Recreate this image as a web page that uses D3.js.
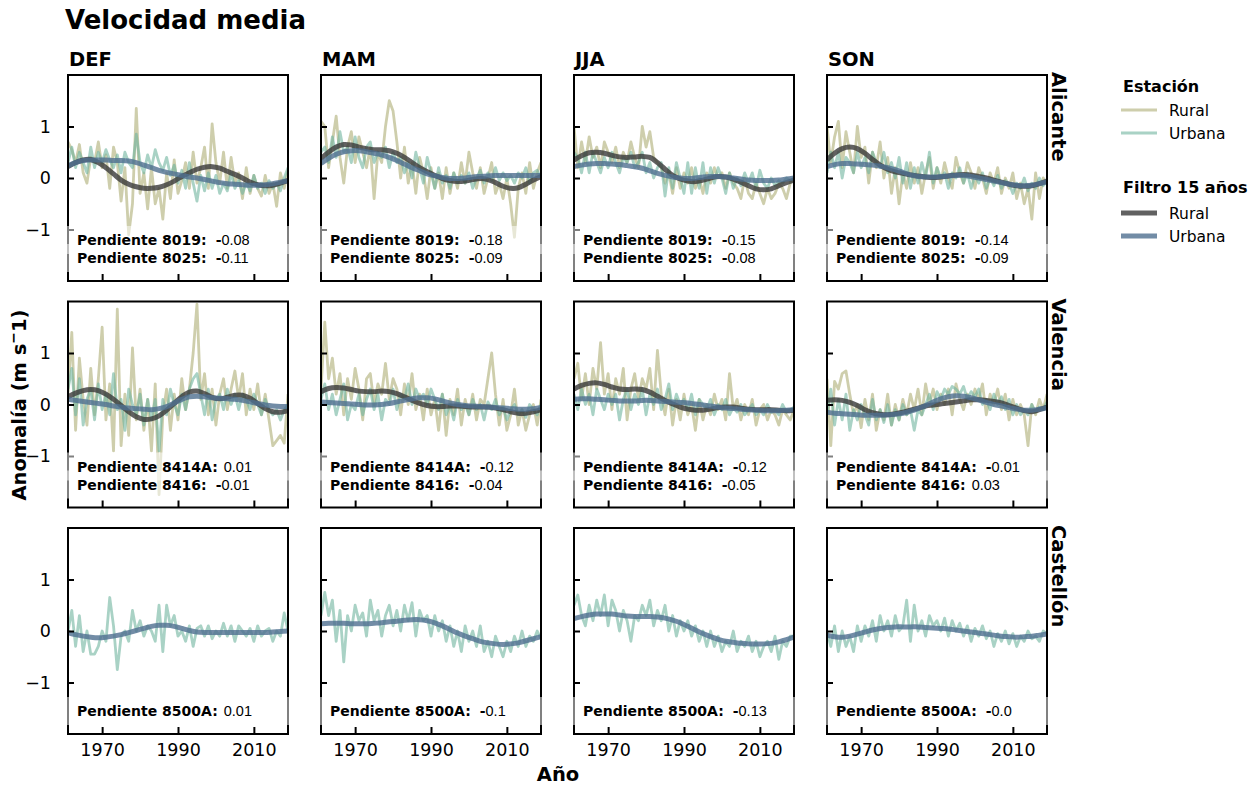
<!DOCTYPE html>
<html><head><meta charset="utf-8">
<script src="https://cdn.jsdelivr.net/npm/d3@7"></script>
<style>body{margin:0;background:#fff}svg{display:block}text{font-family:"DejaVu Sans",sans-serif}</style>
</head><body><svg id="c" width="1257" height="785"></svg>
<script>
// ---------------- DATA ----------------
const years = d3.range(1961, 2020);          // annual values 1961..2019
const filterYears = d3.range(1961, 2020, 2); // filtered curve sampled every 2 years
const seasons = ["DEF", "MAM", "JJA", "SON"];
const cities = ["Alicante", "Valencia", "Castellón"];
const yTicks = [-1, 0, 1];
const xTicks = [1970, 1990, 2010];

// Alicante
const aliDEF_rural = [0.7,0.55,0.3,0.65,0.1,-0.1,0.4,0.3,0.7,0.2,0.45,-0.2,0.6,0.3,-0.45,0.2,-1.1,-0.5,1.35,-0.3,0.1,-0.6,0.2,-0.5,-0.2,-0.8,0.1,-0.4,0.35,-0.3,-0.05,0.3,-0.2,0.5,-0.1,0.2,0.6,-0.2,1.05,0.3,-0.1,0.5,-0.2,0.4,-0.1,0.1,-0.4,0.2,-0.3,0.05,-0.2,-0.35,0.05,-0.3,-0.1,-0.55,0.1,-0.2,0.15];
const aliDEF_urbana = [0.3,0.6,0.2,0.5,0.3,0.1,0.6,0.2,0.5,0.3,0.55,0.35,0.2,0.45,0.1,0.5,0.3,0.2,0.85,0.3,0.1,0.45,0.2,0.55,0.3,0.15,0.4,0.05,0.25,-0.1,0.15,-0.2,0.3,-0.1,-0.45,0.05,-0.25,0.1,-0.2,0.05,-0.3,-0.1,-0.25,0.1,-0.2,-0.05,-0.3,-0.1,-0.25,0.05,-0.2,-0.1,-0.3,-0.05,-0.2,-0.1,-0.25,0.0,0.2];
const aliDEF_ruralF = [0.22,0.3,0.35,0.36,0.3,0.2,0.08,-0.04,-0.12,-0.17,-0.2,-0.2,-0.18,-0.13,-0.06,0.03,0.1,0.17,0.21,0.22,0.19,0.13,0.07,0,-0.08,-0.13,-0.15,-0.14,-0.1,-0.05];
const aliDEF_urbanaF = [0.24,0.3,0.34,0.35,0.35,0.35,0.34,0.34,0.33,0.3,0.25,0.2,0.15,0.11,0.08,0.05,0.02,0,-0.03,-0.06,-0.09,-0.11,-0.12,-0.13,-0.14,-0.14,-0.13,-0.11,-0.08,-0.05];

const aliMAM_rural = [1.1,1.0,0.2,0.7,1.2,0.4,-0.1,0.6,0.9,0.3,0.8,0.5,0.2,0.6,-0.4,0.5,0.3,1.0,1.5,1.3,0.7,0.0,0.6,-0.1,0.3,-0.3,0.4,0.1,-0.4,0.2,-0.2,0.1,-0.4,0.2,-0.3,0.1,-0.2,0.3,-0.1,0.5,0.1,-0.2,0.2,-0.3,0.0,0.3,-0.3,-0.1,-0.4,0.0,-0.5,-1.15,-0.2,0.1,-0.3,0.3,-0.2,0.1,0.3];
const aliMAM_urbana = [0.5,0.6,0.3,0.8,0.4,0.9,0.5,0.6,0.3,0.8,0.4,0.2,0.6,0.7,0.3,0.5,0.4,0.6,0.2,0.5,0.3,0.4,0.1,0.3,0.0,0.5,0.2,-0.1,0.4,0.1,-0.2,0.2,-0.1,0.05,-0.2,0.1,-0.1,0.05,-0.1,0.1,-0.2,0.0,0.15,-0.1,0.1,-0.05,0.2,-0.05,0.1,-0.05,0.05,-0.1,0.1,0.0,0.2,-0.1,0.1,0.15,0.0];
const aliMAM_ruralF = [0.38,0.5,0.6,0.65,0.64,0.6,0.57,0.55,0.55,0.53,0.48,0.4,0.3,0.2,0.12,0.05,-0.01,-0.05,-0.07,-0.06,-0.03,-0.01,-0.03,-0.09,-0.16,-0.2,-0.19,-0.12,-0.04,0.03];
const aliMAM_urbanaF = [0.28,0.38,0.46,0.51,0.53,0.53,0.51,0.48,0.45,0.4,0.34,0.27,0.2,0.14,0.08,0.04,0.01,-0.01,-0.01,0,0.02,0.03,0.04,0.05,0.05,0.05,0.05,0.05,0.05,0.05];

const aliJJA_rural = [1.0,0.2,0.7,0.3,0.8,0.4,0.6,0.2,0.7,0.5,0.3,0.6,0.2,0.5,0.3,0.7,0.4,0.2,1.0,0.6,0.9,0.4,0.3,0.2,-0.1,0.1,-0.3,0.2,-0.2,0.1,-0.1,0.2,-0.2,0.0,-0.3,0.1,-0.1,0.2,0.0,0.1,-0.2,0.1,-0.1,-0.2,-0.4,0.0,-0.3,-0.4,-0.1,-0.3,-0.5,-0.2,-0.4,-0.3,-0.1,-0.2,-0.4,-0.1,0.0];
const aliJJA_urbana = [0.5,0.4,0.1,0.5,0.1,0.5,0.3,0.1,0.4,0.2,0.5,0.3,0.1,0.4,0.3,0.5,0.2,0.3,0.5,0.1,0.3,0.0,0.2,0.3,-0.35,0.2,-0.2,0.3,0.0,-0.3,0.3,-0.3,0.2,-0.2,0.3,-0.3,0.2,-0.1,0.2,0.0,-0.3,0.1,-0.2,0.0,-0.15,0.1,-0.1,0.1,-0.2,0.15,-0.1,-0.2,0.0,-0.15,-0.05,-0.1,0.0,-0.05,0.0];
const aliJJA_ruralF = [0.35,0.43,0.49,0.5,0.48,0.44,0.41,0.4,0.41,0.42,0.4,0.3,0.17,0.05,-0.02,-0.06,-0.07,-0.04,0,0.03,0.02,-0.02,-0.08,-0.15,-0.21,-0.23,-0.21,-0.15,-0.09,-0.04];
const aliJJA_urbanaF = [0.22,0.25,0.27,0.28,0.28,0.27,0.26,0.24,0.22,0.19,0.14,0.09,0.05,0.02,0,-0.01,0,0.02,0.03,0.03,0.02,0,-0.02,-0.04,-0.05,-0.05,-0.05,-0.04,-0.02,0];

const aliSON_rural = [1.0,0.3,0.8,1.1,0.2,0.9,0.5,0.1,1.0,0.4,0.6,-0.1,0.5,0.2,0.7,0.0,0.4,-0.3,0.2,-0.5,0.1,-0.2,0.3,-0.1,0.2,-0.3,0.1,0.4,-0.2,0.2,-0.1,0.3,0.0,-0.2,0.4,0.1,-0.1,0.3,0.1,-0.2,0.2,0.0,-0.3,0.1,-0.1,0.2,-0.3,0.0,-0.2,0.1,-0.4,-0.1,-0.5,-0.2,-0.8,0.1,-0.4,0.0,-0.1];
const aliSON_urbana = [0.1,0.5,0.2,0.5,0.0,0.4,0.3,0.1,0.5,0.2,0.4,0.1,0.5,0.3,0.2,0.5,0.1,0.3,0.0,0.4,-0.1,0.3,-0.2,0.2,-0.1,0.3,0.0,0.5,-0.1,0.2,0.0,0.1,-0.2,0.1,0.0,0.2,-0.1,0.1,-0.2,0.05,-0.1,0.1,-0.2,0.0,-0.15,0.05,-0.2,-0.05,-0.1,-0.3,-0.1,-0.2,0.0,-0.25,-0.1,-0.2,0.0,-0.15,-0.05];
const aliSON_ruralF = [0.35,0.48,0.57,0.6,0.57,0.48,0.36,0.25,0.17,0.12,0.09,0.06,0.04,0.02,0.01,0.02,0.04,0.06,0.07,0.06,0.03,0,-0.04,-0.08,-0.12,-0.15,-0.16,-0.15,-0.11,-0.06];
const aliSON_urbanaF = [0.22,0.26,0.28,0.28,0.27,0.26,0.25,0.23,0.2,0.16,0.11,0.06,0.03,0.02,0.02,0.03,0.04,0.05,0.05,0.03,0,-0.03,-0.06,-0.09,-0.12,-0.14,-0.15,-0.14,-0.11,-0.07];

// Valencia
const valDEF_rural = [0.2,1.4,-0.5,0.9,0.1,-0.4,0.7,-0.2,0.5,1.5,-0.3,0.4,-0.9,1.85,-0.8,0.2,-0.6,1.1,-0.3,0.3,-0.5,0.1,-0.9,0.4,-1.75,-0.2,0.3,-0.5,0.2,-0.3,0.5,-0.1,0.3,1.0,1.95,0.1,0.6,-0.2,0.3,-0.4,0.2,0.5,-0.1,0.3,0.65,0.1,0.6,-0.2,0.3,-0.1,0.4,-0.2,0.2,-0.3,-0.8,-0.7,-0.6,-0.75,0.2];
const valDEF_urbana = [0.3,0.7,-0.2,0.5,-0.4,0.1,0.3,-0.3,0.4,-0.1,0.2,-0.2,0.6,-0.1,0.1,-0.5,0.3,0.0,-0.2,0.2,-0.4,0.1,-0.3,0.1,-0.9,0.1,-0.2,0.3,0.0,-0.2,0.2,-0.1,0.3,0.5,0.6,0.2,-0.2,0.3,-0.3,0.1,0.2,-0.1,0.3,0.0,0.2,-0.1,0.2,0.1,-0.1,0.2,0.0,-0.2,0.1,-0.1,-0.2,-0.1,-0.3,-0.1,0.0];
const valDEF_ruralF = [0.15,0.22,0.27,0.29,0.27,0.2,0.1,-0.02,-0.14,-0.24,-0.29,-0.28,-0.22,-0.11,0.02,0.15,0.24,0.26,0.21,0.14,0.11,0.14,0.18,0.18,0.12,0.02,-0.08,-0.14,-0.15,-0.12];
const valDEF_urbanaF = [0.1,0.08,0.06,0.04,0.02,0,-0.03,-0.05,-0.07,-0.08,-0.09,-0.1,-0.08,-0.04,0.03,0.1,0.15,0.16,0.15,0.13,0.12,0.11,0.1,0.08,0.05,0.02,-0.01,-0.03,-0.04,-0.04];

const valMAM_rural = [0.3,1.6,0.5,0.9,0.2,0.6,-0.2,0.5,0.1,0.7,0.3,-0.3,0.5,0.6,0.0,0.4,0.2,0.8,0.1,0.5,0.3,-0.2,0.4,0.0,0.6,-0.1,0.2,-0.3,0.3,-0.2,0.1,-0.5,0.2,-0.6,0.1,-0.2,0.3,-0.4,0.1,-0.2,0.2,-0.3,0.1,0.0,0.5,1.0,0.2,-0.4,0.1,-0.5,-0.2,0.3,-0.4,-0.1,-0.5,-0.2,0.0,-0.4,0.1];
const valMAM_urbana = [0.1,0.4,-0.1,0.2,-0.2,0.1,0.4,-0.3,0.0,-0.1,0.2,-0.2,0.1,0.3,-0.1,0.2,-0.3,0.1,0.0,0.3,-0.1,0.2,0.1,0.4,0.0,0.3,0.1,0.2,0.0,0.3,0.1,-0.1,0.2,-0.2,0.0,-0.3,0.1,-0.1,0.0,-0.2,0.1,-0.1,0.0,-0.3,0.05,-0.1,0.1,-0.2,-0.05,-0.3,-0.1,0.0,-0.2,-0.1,-0.25,0.0,-0.1,-0.2,0.0];
const valMAM_ruralF = [0.25,0.31,0.33,0.32,0.29,0.26,0.25,0.25,0.26,0.25,0.21,0.15,0.08,0.02,-0.02,-0.04,-0.04,-0.03,-0.03,-0.04,-0.05,-0.05,-0.05,-0.07,-0.1,-0.14,-0.17,-0.17,-0.14,-0.1];
const valMAM_urbanaF = [0.05,0.04,0.03,0.02,0.01,0,-0.01,-0.01,0,0.02,0.05,0.08,0.11,0.13,0.13,0.11,0.07,0.03,0,-0.02,-0.03,-0.04,-0.05,-0.06,-0.07,-0.08,-0.09,-0.09,-0.08,-0.06];

const valJJA_rural = [0.5,0.8,0.1,0.6,0.0,0.7,0.3,1.2,0.2,0.6,-0.1,0.5,0.2,0.7,-0.3,0.3,0.6,0.1,0.5,0.3,0.7,-0.1,1.05,0.2,-0.2,0.3,-0.4,0.1,-0.3,0.2,-0.2,0.0,-0.5,0.1,-0.3,0.0,-0.2,0.2,-0.1,0.1,-0.3,0.6,-0.1,0.1,-0.3,0.0,-0.2,0.1,-0.4,-0.1,0.0,-0.3,-0.1,-0.2,-0.4,-0.1,-0.2,-0.3,-0.1];
const valJJA_urbana = [0.2,-0.1,0.3,0.0,0.2,-0.2,0.3,0.1,-0.1,0.2,0.0,0.2,-0.3,0.1,0.3,-0.1,0.2,0.0,0.3,-0.2,0.2,0.0,0.3,-0.1,0.1,0.4,-0.1,0.2,0.0,0.1,-0.1,0.2,-0.2,0.1,0.0,-0.1,0.1,-0.2,0.0,-0.1,0.1,-0.2,-0.05,-0.15,0.0,-0.2,-0.1,0.0,-0.2,-0.1,-0.2,0.0,-0.15,-0.1,-0.2,0.0,-0.15,-0.1,-0.05];
const valJJA_ruralF = [0.3,0.37,0.41,0.42,0.39,0.34,0.3,0.29,0.3,0.29,0.24,0.16,0.08,0.01,-0.05,-0.09,-0.11,-0.11,-0.09,-0.06,-0.05,-0.05,-0.07,-0.09,-0.1,-0.1,-0.1,-0.11,-0.12,-0.11];
const valJJA_urbanaF = [0.1,0.11,0.11,0.1,0.09,0.08,0.07,0.07,0.07,0.08,0.08,0.07,0.06,0.05,0.04,0.03,0.01,-0.01,-0.03,-0.05,-0.07,-0.08,-0.09,-0.1,-0.11,-0.12,-0.12,-0.12,-0.11,-0.1];

const valSON_rural = [0.5,-0.8,0.45,0.3,0.6,0.65,0.2,-0.2,0.0,-0.45,0.1,-0.3,0.2,-0.5,-0.1,-0.3,0.2,-0.4,0.0,-0.3,0.1,-0.2,0.2,-0.1,0.3,-0.2,0.4,0.0,0.3,-0.1,0.2,0.0,0.3,-0.2,0.4,0.1,-0.1,0.2,0.0,0.3,0.1,0.4,-0.2,0.2,0.0,0.3,-0.1,0.2,-0.3,0.1,-0.2,0.0,-0.2,-0.8,0.0,-0.2,0.1,-0.1,0.2];
const valSON_urbana = [-0.2,0.3,-0.4,0.1,-0.3,0.2,-0.5,-0.1,-0.3,0.0,-0.2,-0.4,0.1,-0.3,-0.1,-0.35,0.0,-0.4,-0.1,-0.3,0.0,-0.2,-0.1,-0.5,-0.1,-0.2,0.0,0.2,-0.1,0.25,0.1,0.3,0.2,0.35,0.3,0.2,0.35,0.1,0.25,0.15,0.3,0.0,0.1,-0.1,0.2,0.0,0.15,-0.1,0.1,-0.2,0.0,-0.2,-0.1,-0.2,0.0,-0.15,-0.05,-0.1,0.05];
const valSON_ruralF = [0.08,0.09,0.08,0.04,-0.02,-0.1,-0.16,-0.19,-0.2,-0.18,-0.15,-0.11,-0.07,-0.03,-0.01,0.01,0.03,0.05,0.07,0.09,0.09,0.08,0.06,0.03,-0.02,-0.07,-0.12,-0.14,-0.1,-0.05];
const valSON_urbanaF = [-0.15,-0.17,-0.18,-0.19,-0.2,-0.21,-0.21,-0.21,-0.2,-0.19,-0.17,-0.13,-0.08,-0.02,0.05,0.11,0.15,0.17,0.16,0.13,0.09,0.04,0,-0.03,-0.06,-0.09,-0.11,-0.11,-0.09,-0.06];

// Castellón (urban station only)
const casDEF_urbana = [0.0,0.4,-0.3,0.3,-0.4,0.0,-0.45,-0.45,-0.3,0.0,-0.2,0.65,0.1,-0.75,-0.1,0.0,-0.2,0.4,0.0,0.2,-0.1,0.1,0.0,-0.2,0.5,-0.4,0.5,0.1,0.3,-0.1,0.0,-0.2,0.1,-0.3,0.05,0.1,-0.1,0.1,-0.15,0.0,-0.1,0.15,-0.1,0.1,-0.2,0.1,0.0,-0.1,0.05,-0.2,0.1,-0.1,0.0,0.05,-0.2,0.0,-0.1,0.35,0.0];
const casDEF_urbanaF = [-0.03,-0.07,-0.1,-0.12,-0.13,-0.12,-0.1,-0.07,-0.03,0.01,0.05,0.09,0.11,0.11,0.09,0.05,0.01,-0.02,-0.03,-0.03,-0.03,-0.03,-0.03,-0.03,-0.03,-0.03,-0.03,-0.02,-0.01,0];
const casMAM_urbana = [0.3,0.75,0.3,0.6,-0.2,0.4,-0.6,0.3,0.0,0.5,0.2,0.35,-0.1,0.6,0.2,0.4,-0.1,0.3,0.5,0.1,0.4,0.0,0.5,0.2,0.55,-0.1,0.4,0.2,0.3,-0.1,0.3,0.0,0.2,-0.2,0.1,-0.3,0.0,-0.4,0.1,-0.2,0.0,-0.3,0.1,-0.4,-0.2,-0.5,-0.1,-0.3,-0.5,-0.2,-0.4,-0.1,-0.3,0.0,-0.3,-0.1,-0.2,0.0,-0.15];
const casMAM_urbanaF = [0.14,0.15,0.15,0.15,0.14,0.14,0.14,0.15,0.16,0.18,0.19,0.21,0.22,0.22,0.2,0.16,0.1,0.03,-0.04,-0.1,-0.15,-0.2,-0.23,-0.25,-0.26,-0.25,-0.23,-0.19,-0.15,-0.11];
const casJJA_urbana = [0.5,0.7,0.3,0.1,0.5,0.2,0.6,0.3,0.7,0.1,0.6,0.4,0.0,0.4,0.2,-0.2,0.3,0.2,0.5,0.3,0.6,0.1,0.4,0.2,0.5,0.0,0.3,-0.1,0.2,0.0,0.2,-0.1,0.1,-0.2,0.0,-0.3,0.0,-0.3,-0.1,-0.4,-0.2,-0.3,0.0,-0.4,-0.2,-0.3,-0.1,-0.4,-0.2,-0.5,-0.3,-0.2,-0.4,-0.1,-0.55,-0.2,-0.3,-0.1,-0.1];
const casJJA_urbanaF = [0.24,0.28,0.31,0.33,0.33,0.33,0.31,0.29,0.28,0.28,0.28,0.27,0.25,0.21,0.16,0.09,0.02,-0.05,-0.11,-0.16,-0.2,-0.22,-0.24,-0.25,-0.25,-0.25,-0.24,-0.21,-0.17,-0.12];
const casSON_urbana = [0.0,-0.3,0.1,-0.4,0.0,-0.3,-0.1,-0.4,0.1,-0.2,0.1,-0.1,0.2,-0.2,0.3,0.0,0.2,-0.1,0.3,0.0,0.1,0.6,-0.2,0.5,0.0,0.2,-0.1,0.3,0.1,0.2,0.0,0.25,-0.1,0.2,0.0,0.15,-0.1,0.1,-0.2,0.05,-0.1,0.1,-0.15,0.0,-0.3,-0.05,-0.2,0.0,-0.25,-0.05,-0.3,-0.1,-0.2,0.0,-0.15,-0.1,-0.2,0.0,-0.05];
const casSON_urbanaF = [-0.08,-0.11,-0.12,-0.1,-0.06,-0.02,0.02,0.05,0.07,0.08,0.08,0.08,0.08,0.07,0.06,0.05,0.04,0.02,0,-0.02,-0.04,-0.06,-0.08,-0.1,-0.11,-0.12,-0.11,-0.1,-0.08,-0.06];

// Trend annotations (station id, slope)
const aliStations = ["8019", "8025"];
const valStations = ["8414A", "8416"];
const casStations = ["8500A"];
const aliSlopeRural = ["-0.08", "-0.18", "-0.15", "-0.14"];
const aliSlopeUrbana = ["-0.11", "-0.09", "-0.08", "-0.09"];
const valSlopeRural = ["0.01", "-0.12", "-0.12", "-0.01"];
const valSlopeUrbana = ["-0.01", "-0.04", "-0.05", "0.03"];
const casSlopeUrbana = ["0.01", "-0.1", "-0.13", "-0.0"];

// ---------------- BUILD TABLE ----------------
const panels = [
  [ {r:aliDEF_rural,u:aliDEF_urbana,rf:aliDEF_ruralF,uf:aliDEF_urbanaF},
    {r:aliMAM_rural,u:aliMAM_urbana,rf:aliMAM_ruralF,uf:aliMAM_urbanaF},
    {r:aliJJA_rural,u:aliJJA_urbana,rf:aliJJA_ruralF,uf:aliJJA_urbanaF},
    {r:aliSON_rural,u:aliSON_urbana,rf:aliSON_ruralF,uf:aliSON_urbanaF} ],
  [ {r:valDEF_rural,u:valDEF_urbana,rf:valDEF_ruralF,uf:valDEF_urbanaF},
    {r:valMAM_rural,u:valMAM_urbana,rf:valMAM_ruralF,uf:valMAM_urbanaF},
    {r:valJJA_rural,u:valJJA_urbana,rf:valJJA_ruralF,uf:valJJA_urbanaF},
    {r:valSON_rural,u:valSON_urbana,rf:valSON_ruralF,uf:valSON_urbanaF} ],
  [ {u:casDEF_urbana,uf:casDEF_urbanaF},
    {u:casMAM_urbana,uf:casMAM_urbanaF},
    {u:casJJA_urbana,uf:casJJA_urbanaF},
    {u:casSON_urbana,uf:casSON_urbanaF} ]
];
const notes = [
  s => [[aliStations[0], aliSlopeRural[s]], [aliStations[1], aliSlopeUrbana[s]]],
  s => [[valStations[0], valSlopeRural[s]], [valStations[1], valSlopeUrbana[s]]],
  s => [[casStations[0], casSlopeUrbana[s]]]
];

// ---------------- STYLE / LAYOUT ----------------
const colX = [68, 321, 574, 827], rowY = [75, 301.5, 528];
const pw = 220, ph = 206;
const C = {
  rural:  {stroke:"#b3b380", op:0.65, w:2.8},
  urbana: {stroke:"#6fb49e", op:0.6, w:2.8},
  ruralF: {stroke:"#3a3a3a", op:0.8, w:5},
  urbanaF:{stroke:"#4f6f90", op:0.8, w:5}
};

const svg = d3.select("#c");
const x = d3.scaleLinear().domain([1961, 2019]).range([0, pw]);
const y = d3.scaleLinear().domain([-2, 2]).range([ph, 0]);
const line = d3.line().x(d => x(d[0])).y(d => y(d[1]));
const smooth = d3.line().x(d => x(d[0])).y(d => y(d[1])).curve(d3.curveCatmullRom.alpha(0.5));
const fmt = d => d < 0 ? "\u2212" + Math.abs(d) : String(d);

svg.append("defs").append("clipPath").attr("id", "clip")
  .append("rect").attr("width", pw).attr("height", ph);

panels.forEach((row, ri) => {
  row.forEach((p, si) => {
    const g = svg.append("g").attr("transform", `translate(${colX[si]},${rowY[ri]})`);
    const lg = g.append("g").attr("clip-path", "url(#clip)");
    const add = (arr, xs, gen, st) => lg.append("path")
      .datum(xs.map((yr, i) => [yr, arr[i]]))
      .attr("d", gen).attr("fill", "none")
      .attr("stroke", st.stroke).attr("stroke-opacity", st.op)
      .attr("stroke-width", st.w).attr("stroke-linejoin", "round");
    if (p.r) add(p.r, years, line, C.rural);
    add(p.u, years, line, C.urbana);
    if (p.rf) add(p.rf, filterYears, smooth, C.ruralF);
    add(p.uf, filterYears, smooth, C.urbanaF);

    // axes (ticks inward)
    const ya = g.append("g").call(d3.axisLeft(y).tickValues(yTicks).tickSizeInner(-6).tickSizeOuter(0).tickPadding(17).tickFormat(fmt));
    const xa = g.append("g").attr("transform", `translate(0,${ph})`)
      .call(d3.axisBottom(x).tickValues(xTicks).tickSizeInner(-7).tickSizeOuter(0).tickPadding(10).tickFormat(d3.format("d")));
    [ya, xa].forEach(a => {
      a.select(".domain").remove();
      a.selectAll("line").attr("stroke", "#000").attr("stroke-width", 2);
      a.selectAll("text").attr("font-size", 17.5).attr("fill", "#000").attr("font-family", "DejaVu Sans");
    });
    if (si > 0) ya.selectAll("text").remove();
    if (ri < 2) xa.selectAll("text").remove();

    // frame
    g.append("rect").attr("width", pw).attr("height", ph)
      .attr("fill", "none").attr("stroke", "#000").attr("stroke-width", 2);

    // annotation
    const nl = notes[ri](si);
    const bases = nl.length === 2 ? [170, 188] : [188];
    nl.forEach((n, k) => {
      g.append("rect").attr("x", -1).attr("y", bases[k] - 19).attr("width", pw + 3).attr("height", 28)
        .attr("fill", "#fff").attr("fill-opacity", 0.5);
    });
    nl.forEach((n, k) => {
      const t = g.append("text").attr("x", 9).attr("y", bases[k]).attr("font-size", 14).attr("fill", "#000");
      t.append("tspan").attr("font-weight", "bold").text(`Pendiente ${n[0]}:`);
      const neg = n[1].startsWith("-");
      if (neg) t.append("tspan").attr("font-weight", "bold").attr("dx", 9).text("-");
      t.append("tspan").attr("font-family", "Liberation Sans").attr("font-size", 14.5)
        .attr("dx", neg ? 0 : 6).text(n[1].replace(/^-/, ""));
    });

    if (ri === 0) g.append("text").attr("x", 1).attr("y", -9).attr("font-size", 19.5)
      .attr("font-weight", "bold").text(seasons[si]);
    if (si === 3) g.append("text").attr("transform", `translate(${pw + 5},-3) rotate(90)`)
      .attr("font-size", 19.5).attr("font-weight", "bold").text(cities[ri]);
  });
});

// titles
svg.append("text").attr("x", 65).attr("y", 29).attr("font-size", 26).attr("font-weight", "bold").text("Velocidad media");
svg.append("text").attr("x", 558).attr("y", 781).attr("text-anchor", "middle").attr("font-size", 19.5).attr("font-weight", "bold").text("Año");
const yl = svg.append("text").attr("transform", "translate(26,405) rotate(-90)").attr("text-anchor", "middle")
  .attr("font-size", 19.5).attr("font-weight", "bold");
yl.append("tspan").text("Anomalía (m s");
yl.append("tspan").attr("dy", -8).attr("font-size", 14).text("\u2212");
yl.append("tspan").attr("dy", 8).text("1)");

// legend
const leg = svg.append("g").attr("transform", "translate(1121,0)");
const legendGroups = [
  {title:"Estación", ty:92, items:[["Rural", C.rural, 110], ["Urbana", C.urbana, 133]]},
  {title:"Filtro 15 años", ty:193, items:[["Rural", C.ruralF, 213], ["Urbana", C.urbanaF, 236]]}
];
legendGroups.forEach(lgp => {
  leg.append("text").attr("x", 2).attr("y", lgp.ty).attr("font-size", 16).attr("font-weight", "bold").text(lgp.title);
  lgp.items.forEach(([lab, st, yy]) => {
    leg.append("line").attr("x1", 0).attr("x2", 36).attr("y1", yy).attr("y2", yy)
      .attr("stroke", st.stroke).attr("stroke-opacity", st.op).attr("stroke-width", st.w);
    leg.append("text").attr("x", 48).attr("y", yy + 5.5).attr("font-size", 15.5).text(lab);
  });
});
</script></body></html>
